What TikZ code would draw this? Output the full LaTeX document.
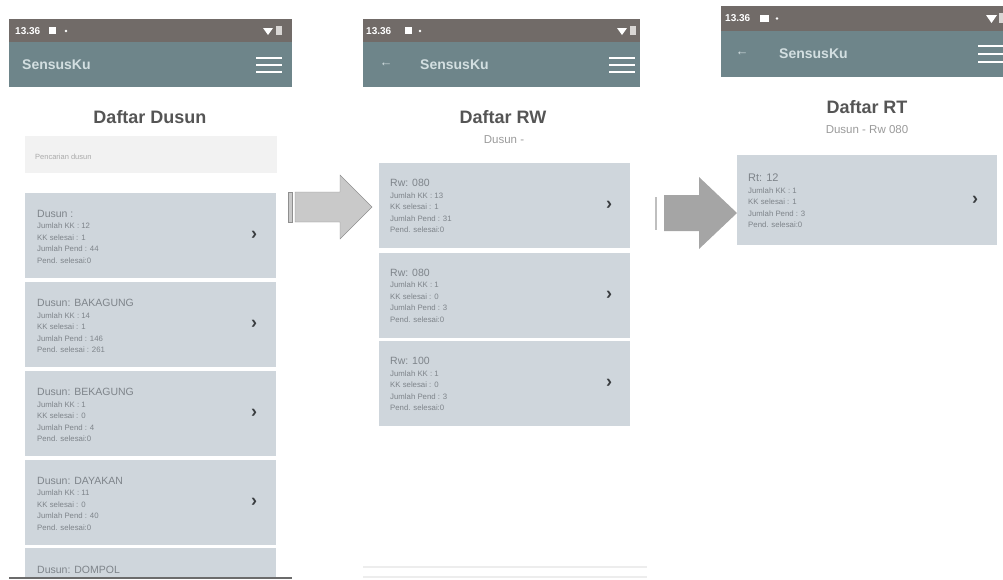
\documentclass[tikz,border=0pt]{standalone}
\usepackage{fontspec}
\setmainfont{Liberation Sans}
\definecolor{barc}{HTML}{716B68}
\definecolor{appc}{HTML}{6E858A}
\definecolor{namec}{HTML}{D3DFE1}
\definecolor{itemc}{HTML}{CFD6DC}
\definecolor{infoc}{HTML}{7E848A}
\definecolor{titc}{HTML}{555555}
\definecolor{subc}{HTML}{9A9A9A}
\definecolor{searchc}{HTML}{F2F2F2}
\definecolor{hintc}{HTML}{AAAAAA}
\definecolor{chevc}{HTML}{3A3D40}
\definecolor{battc}{HTML}{D9D6D4}
\definecolor{arrfill}{HTML}{C9C9C9}
\definecolor{arrline}{HTML}{8F8F8F}
\definecolor{arrdark}{HTML}{A5A5A5}

\begin{document}
\begin{tikzpicture}[x=1pt,y=-1pt,
  stat/.style={anchor=west,inner sep=0,text=white,font=\bfseries\fontsize{10}{12}\selectfont},
  appname/.style={anchor=west,inner sep=0,text=namec,font=\bfseries\fontsize{14}{17}\selectfont},
  back/.style={inner sep=0,text=namec,font=\fontsize{13}{15}\selectfont},
  ttl/.style={inner sep=0,text=titc,font=\bfseries\fontsize{18}{22}\selectfont},
  sub/.style={inner sep=0,text=subc,font=\fontsize{11.5}{14}\selectfont},
  srch/.style={fill=searchc,inner sep=0,minimum width=252,minimum height=37},
  hint/.style={anchor=west,inner sep=0,text=hintc,font=\fontsize{7.5}{9}\selectfont},
  item/.style={fill=itemc,inner sep=0,minimum width=251,minimum height=85},
  info/.style={anchor=north west,inner sep=0,align=left,text=infoc,font=\fontsize{7.8}{11.5}\selectfont},
  chev/.style={inner sep=0,text=chevc,font=\bfseries\fontsize{18}{18}\selectfont},
  menu/.style={draw=white,line width=2.8},
  icon/.style={fill=white},
  batt/.style={fill=battc}]
\useasboundingbox (0,0) rectangle (1003,579);

% screen 1
\fill[barc] (9,19) rectangle (292,42);
\fill[appc] (9,42) rectangle (292,87);
\node[stat] (c1) at (15,31) {13.36};
\fill[icon] (49,27) rectangle (56,34);
\fill[icon] (66,31) circle (1.3);
\fill[icon] (263,28) -- (273,28) -- (268,35) -- cycle;
\fill[batt] (276,26) rectangle (282,35);
\node[appname] (n1) at (22,65) {SensusKu};
\draw[menu] (256,58) -- (282,58);
\draw[menu] (256,65) -- (282,65);
\draw[menu] (256,72) -- (282,72);
\node[ttl] (h1) at (150,117) {Daftar Dusun};
\node[srch] (s1) at (151,154.5) {};
\node[hint] (p1) at (35,157) {Pencarian dusun};
\node[item] (i11) at (150.5,235) {};
\node[item] (i12) at (150.5,324.5) {};
\node[item] (i13) at (150.5,413.5) {};
\node[item] (i14) at (150.5,502.5) {};
\node[item,minimum height=29] (i15) at (150.5,562.5) {};
\node[info] (d11) at (37,210) {{\fontsize{10.5}{11.5}\selectfont Dusun :}\\Jumlah KK : 12\\KK selesai : 1\\Jumlah Pend : 44\\Pend. selesai:0};
\node[info] (d12) at (37,299) {{\fontsize{10.5}{11.5}\selectfont Dusun: BAKAGUNG}\\Jumlah KK : 14\\KK selesai : 1\\Jumlah Pend : 146\\Pend. selesai : 261};
\node[info] (d13) at (37,388) {{\fontsize{10.5}{11.5}\selectfont Dusun: BEKAGUNG}\\Jumlah KK : 1\\KK selesai : 0\\Jumlah Pend : 4\\Pend. selesai:0};
\node[info] (d14) at (37,477) {{\fontsize{10.5}{11.5}\selectfont Dusun: DAYAKAN}\\Jumlah KK : 11\\KK selesai : 0\\Jumlah Pend : 40\\Pend. selesai:0};
\node[info] (d15) at (37,566) {{\fontsize{10.5}{11.5}\selectfont Dusun: DOMPOL}};
\node[chev] (v11) at (254,235) {›};
\node[chev] (v12) at (254,324.5) {›};
\node[chev] (v13) at (254,413.5) {›};
\node[chev] (v14) at (254,502.5) {›};
\fill[black!58] (9,576.5) rectangle (292,579);

% arrow 1
\filldraw[fill=arrfill,draw=arrline] (288,192) rectangle (292.5,222);
\filldraw[fill=arrfill,draw=arrline] (295,192) -- (340,192) -- (340,175) -- (372,207)
  -- (340,239) -- (340,222) -- (295,222) -- cycle;

% screen 2
\fill[barc] (363,19) rectangle (640,42);
\fill[appc] (363,42) rectangle (640,87);
\node[stat] (c2) at (366,31) {13.36};
\fill[icon] (405,27) rectangle (412,34);
\fill[icon] (420,31) circle (1.3);
\fill[icon] (617,28) -- (627,28) -- (622,35) -- cycle;
\fill[batt] (630,26) rectangle (636,35);
\node[back] (b2) at (386,65) {←};
\node[appname] (n2) at (420,65) {SensusKu};
\draw[menu] (609,58) -- (635,58);
\draw[menu] (609,65) -- (635,65);
\draw[menu] (609,72) -- (635,72);
\node[ttl] (h2) at (503,117) {Daftar RW};
\node[sub] (u2) at (504,140) {Dusun -};
\node[item] (i21) at (504.5,205.5) {};
\node[item] (i22) at (504.5,295) {};
\node[item] (i23) at (504.5,383.5) {};
\node[info] (d21) at (390,179) {{\fontsize{10.5}{11.5}\selectfont Rw: 080}\\Jumlah KK : 13\\KK selesai : 1\\Jumlah Pend : 31\\Pend. selesai:0};
\node[info] (d22) at (390,268.5) {{\fontsize{10.5}{11.5}\selectfont Rw: 080}\\Jumlah KK : 1\\KK selesai : 0\\Jumlah Pend : 3\\Pend. selesai:0};
\node[info] (d23) at (390,357) {{\fontsize{10.5}{11.5}\selectfont Rw: 100}\\Jumlah KK : 1\\KK selesai : 0\\Jumlah Pend : 3\\Pend. selesai:0};
\node[chev] (v21) at (609,205.5) {›};
\node[chev] (v22) at (609,295) {›};
\node[chev] (v23) at (609,383.5) {›};
\draw[black!7,line width=1.5] (363,567) -- (647,567);
\draw[black!7,line width=1.5] (363,577) -- (647,577);

% arrow 2
\draw[black!25,line width=1.5] (656,197) -- (656,230);
\fill[arrdark] (664,195) -- (699,195) -- (699,177) -- (737,213)
  -- (699,249) -- (699,231) -- (664,231) -- cycle;

% screen 3
\fill[barc] (721,6) rectangle (1003,31);
\fill[appc] (721,31) rectangle (1003,77);
\node[stat] (c3) at (725,18.5) {13.36};
\fill[icon] (760,15) rectangle (769,22);
\fill[icon] (777,18.5) circle (1.3);
\fill[icon] (986,15) -- (997,15) -- (991.5,23) -- cycle;
\fill[batt] (999,13) rectangle (1003,23);
\node[back] (b3) at (742,54) {←};
\node[appname] (n3) at (779,54) {SensusKu};
\draw[menu] (978,46) -- (1003,46);
\draw[menu] (978,54) -- (1003,54);
\draw[menu] (978,62) -- (1003,62);
\node[ttl] (h3) at (867,107) {Daftar RT};
\node[sub] (u3) at (867,130) {Dusun - Rw 080};
\node[item,minimum width=260,minimum height=90] (i31) at (867,200) {};
\node[info] (d31) at (748,174) {{\fontsize{11}{11.5}\selectfont Rt: 12}\\Jumlah KK : 1\\KK selesai : 1\\Jumlah Pend : 3\\Pend. selesai:0};
\node[chev] (v31) at (975,200) {›};
\end{tikzpicture}
\end{document}
